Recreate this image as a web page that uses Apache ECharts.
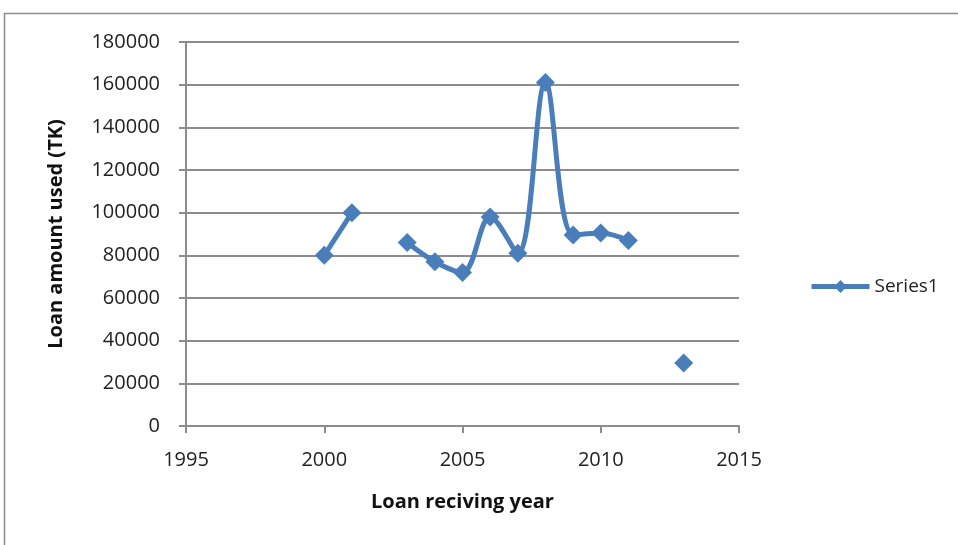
<!DOCTYPE html>
<html>
<head>
<meta charset="utf-8">
<script src="https://cdn.jsdelivr.net/npm/echarts@6/dist/echarts.min.js"></script>
<style>
html,body{margin:0;padding:0;background:#fff;}
#chart{width:958px;height:545px;}
</style>
</head>
<body>
<div id="chart"></div>
<script>
var years = [2000, 2001, 2002, 2003, 2004, 2005, 2006, 2007, 2008, 2009, 2010, 2011, 2012, 2013];
var loanAmounts = [80000, 100000, null, 86000, 77000, 72000, 98000, 81000, 161000, 89500, 90500, 87000, null, 29500];
var seriesName = 'Series1';
var xTitle = 'Loan reciving year';
var yTitle = 'Loan amount used (TK)';

var data = years.map(function (y, i) {
  return [y, loanAmounts[i] === null ? '-' : loanAmounts[i]];
});

var font = 'Open Sans';
var plain = function (v) { return String(v); };
var chart = echarts.init(document.getElementById('chart'), null, {renderer: 'canvas'});
chart.setOption({
  animation: false,
  backgroundColor: '#fff',
  graphic: [{
    type: 'rect',
    shape: {x: 4.5, y: 13.5, width: 1000, height: 600},
    style: {fill: 'none', stroke: '#8c8c8c', lineWidth: 1.5},
    silent: true
  }],
  grid: {left: 186, right: 219, top: 42, bottom: 119},
  legend: {
    data: [seriesName],
    left: 804,
    top: 272,
    itemWidth: 58,
    itemHeight: 16,
    itemGap: 4,
    lineStyle: {width: 5, color: '#4a7ebb'},
    textStyle: {fontFamily: font, fontSize: 19, color: '#222'}
  },
  xAxis: {
    type: 'value',
    min: 1995,
    max: 2015,
    interval: 5,
    name: xTitle,
    nameLocation: 'middle',
    nameGap: 66,
    nameTextStyle: {fontFamily: font, fontSize: 20, fontWeight: 'bold', color: '#111'},
    axisLine: {show: true, lineStyle: {color: '#8c8c8c', width: 2}},
    axisTick: {show: true, inside: false, length: 7, lineStyle: {color: '#8c8c8c', width: 2}},
    splitLine: {show: false},
    axisLabel: {fontFamily: font, fontSize: 20, color: '#222', margin: 24, formatter: plain}
  },
  yAxis: {
    type: 'value',
    min: 0,
    max: 180000,
    interval: 20000,
    name: yTitle,
    nameLocation: 'middle',
    nameGap: 120,
    nameTextStyle: {fontFamily: font, fontSize: 20, fontWeight: 'bold', color: '#111'},
    axisLine: {show: true, lineStyle: {color: '#8c8c8c', width: 2}},
    axisTick: {show: true, inside: false, length: 7, lineStyle: {color: '#8c8c8c', width: 2}},
    splitLine: {show: true, lineStyle: {color: '#8c8c8c', width: 2}},
    axisLabel: {fontFamily: font, fontSize: 20, color: '#222', margin: 26, formatter: plain}
  },
  series: [{
    name: seriesName,
    type: 'line',
    data: data,
    smooth: 0.35,
    connectNulls: false,
    symbol: 'diamond',
    symbolSize: 19,
    showAllSymbol: true,
    lineStyle: {color: '#4a7ebb', width: 5},
    itemStyle: {color: '#4a7ebb'}
  }]
});
</script>
</body>
</html>
